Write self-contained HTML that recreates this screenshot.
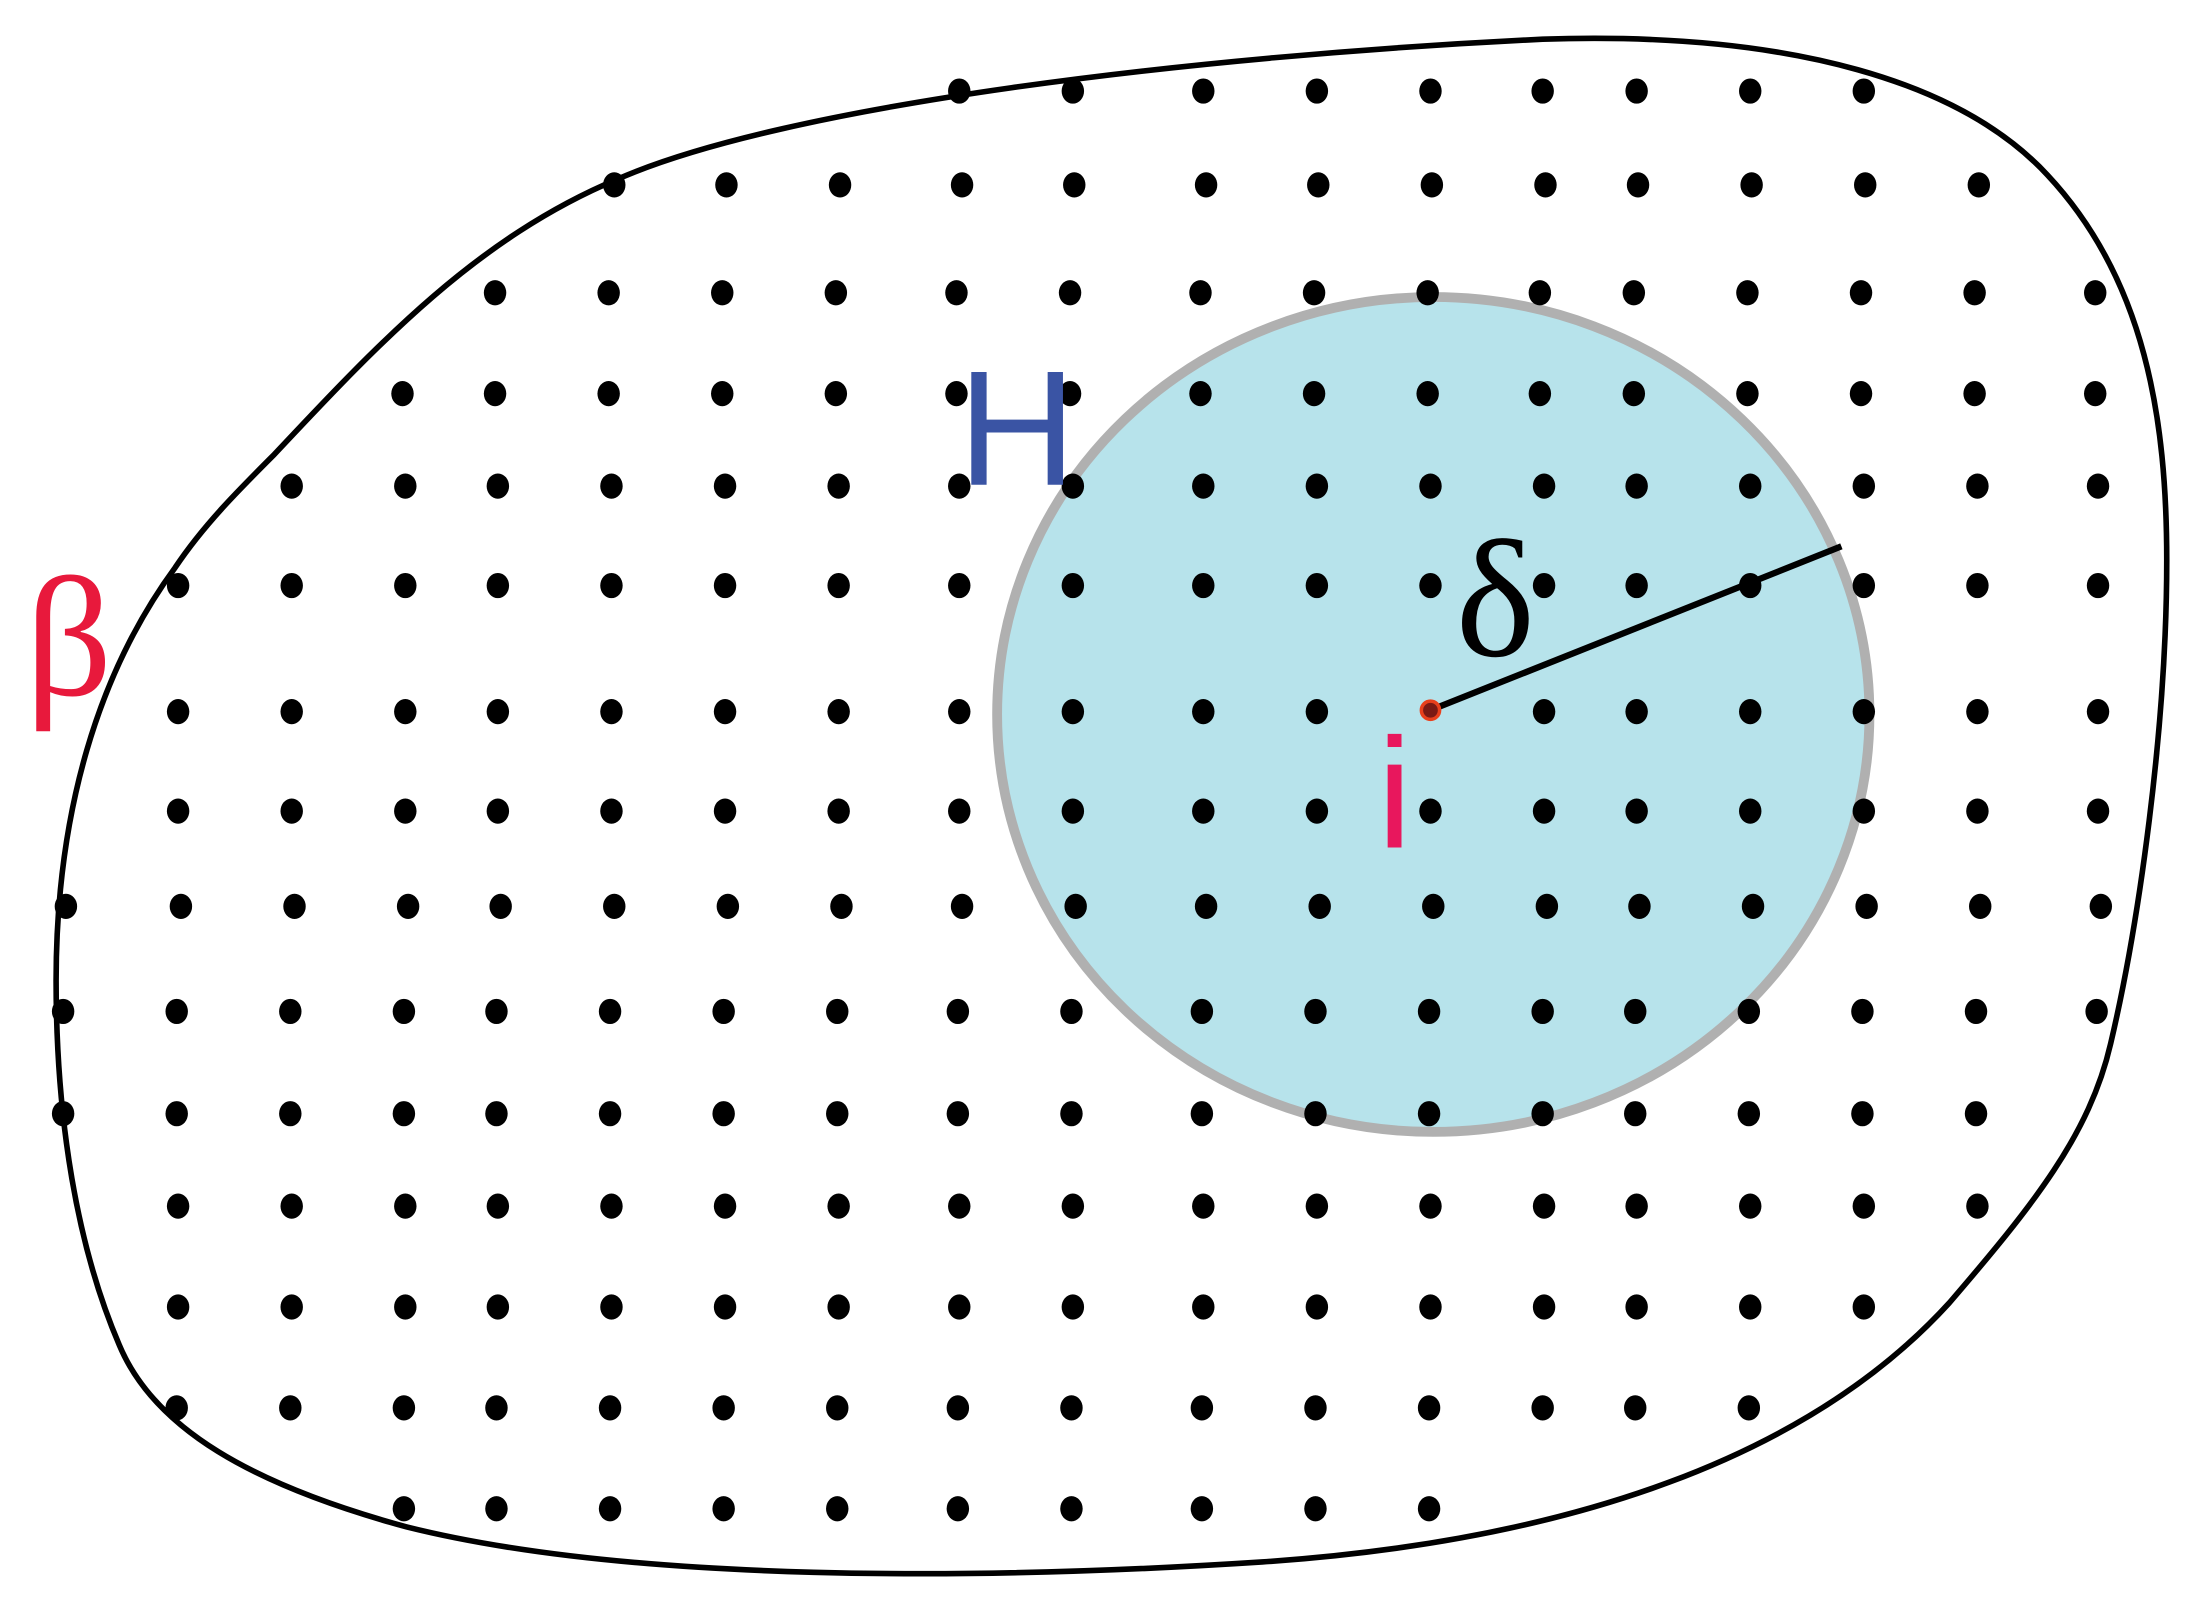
<!DOCTYPE html>
<html><head><meta charset="utf-8"><style>html,body{margin:0;padding:0;background:#fff}svg{display:block}</style></head>
<body>
<svg width="2199" height="1618" viewBox="0 0 1568 1155" preserveAspectRatio="none" xmlns="http://www.w3.org/2000/svg">
<rect width="1568" height="1155" fill="#fff"/>
<path d="M 440 128 C 560 75, 850 40, 1100 28 C 1280 22, 1400 60, 1460 125 C 1530 200, 1545 300, 1545 400 C 1545 520, 1525 660, 1505 745 C 1490 810, 1450 860, 1390 930 C 1290 1040, 1120 1100, 900 1115 C 700 1128, 450 1130, 290 1090 C 180 1060, 110 1020, 85 960 C 55 890, 40 800, 40 700 C 40 580, 70 480, 125 405 C 145 375, 170 350, 195 325 C 270 245, 340 170, 440 128 Z" fill="none" stroke="#000" stroke-width="4"/>
<ellipse cx="1022" cy="510" rx="311" ry="298" fill="#b7e3eb" stroke="#b0b0b0" stroke-width="7"/>
<g id="dots" fill="#000"></g>
<line x1="1020" y1="507" x2="1313" y2="390" stroke="#000" stroke-width="4.5"/>
<circle cx="1020" cy="507" r="6.5" fill="#7a1a14" stroke="#e8401c" stroke-width="2.5"/>
<text x="683" y="346" font-family="Liberation Sans, sans-serif" font-size="117" fill="#3a54a4">H</text>
<text x="18" y="496" font-family="Liberation Serif, serif" font-size="122" fill="#e8193c">β</text>
<text x="1038" y="468" font-family="Liberation Serif, serif" font-size="120" fill="#000">δ</text>
<text x="982" y="605" font-family="Liberation Sans, sans-serif" font-size="112" fill="#e8175d">i</text>
<script>
var rows=[
[65,[684,765,858,939,1020,1100,1167,1248,1329]],
[132,[438,518,599,686,766,860,940,1021,1102,1168,1249,1330,1411]],
[209,[353,434,515,596,682,763,856,937,1018,1098,1165,1246,1327,1408,1494]],
[281,[287,353,434,515,596,682,763,856,937,1018,1098,1165,1246,1327,1408,1494]],
[347,[208,289,355,436,517,598,684,765,858,939,1020,1101,1167,1248,1329,1410,1496]],
[418,[127,208,289,355,436,517,598,684,765,858,939,1020,1101,1167,1248,1329,1410,1496]],
[508,[127,208,289,355,436,517,598,684,765,858,939,1101,1167,1248,1329,1410,1496]],
[579,[127,208,289,355,436,517,598,684,765,858,939,1020,1101,1167,1248,1329,1410,1496]],
[647,[47,129,210,291,357,438,519,600,686,767,860,941,1022,1103,1169,1250,1331,1412,1498]],
[722,[45,126,207,288,354,435,516,597,683,764,857,938,1019,1100,1166,1247,1328,1409,1495]],
[795,[45,126,207,288,354,435,516,597,683,764,857,938,1019,1100,1166,1247,1328,1409]],
[861,[127,208,289,355,436,517,598,684,765,858,939,1020,1101,1167,1248,1329,1410]],
[933,[127,208,289,355,436,517,598,684,765,858,939,1020,1101,1167,1248,1329]],
[1005,[126,207,288,354,435,516,597,683,764,857,938,1019,1100,1166,1247]],
[1077,[288,354,435,516,597,683,764,857,938,1019]]];
var g=document.getElementById('dots'),ns='http://www.w3.org/2000/svg';
rows.forEach(function(r){r[1].forEach(function(x){var e=document.createElementNS(ns,'ellipse');e.setAttribute('cx',x);e.setAttribute('cy',r[0]);e.setAttribute('rx',8);e.setAttribute('ry',9);g.appendChild(e);});});
</script>
</svg>
</body></html>
